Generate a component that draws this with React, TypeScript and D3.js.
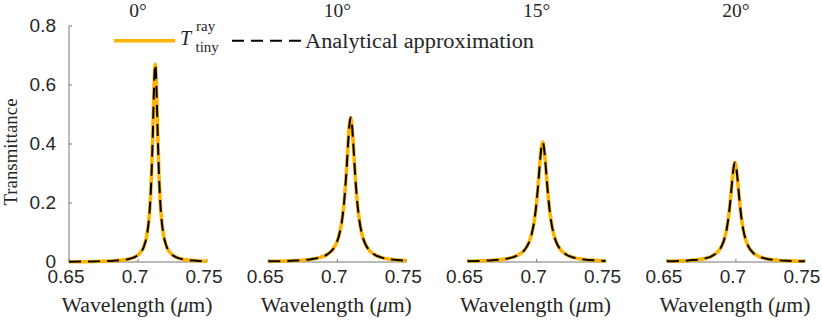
import React from 'react';
import * as d3 from 'd3';

const panelTitles = ['0°', '10°', '15°', '20°'];
const xTicks = [0.65, 0.7, 0.75];
const xTickLabels = ['0.65', '0.7', '0.75'];
const yTicks = [0, 0.2, 0.4, 0.6, 0.8];
const yTickLabels = ['0', '0.2', '0.4', '0.6', '0.8'];

// Panel 0°
const wl0 = [0.65, 0.6675, 0.6825, 0.6925, 0.6975, 0.7015, 0.7045, 0.7065, 0.7077, 0.7089, 0.7098, 0.7107, 0.7115, 0.712, 0.7125, 0.713, 0.7135, 0.7143, 0.7152, 0.7161, 0.7173, 0.7185, 0.7205, 0.7235, 0.7275, 0.7325, 0.7425, 0.75];
const ray0 = [0.001, 0.0019, 0.0043, 0.0095, 0.0167, 0.0305, 0.0553, 0.0924, 0.134, 0.2062, 0.2957, 0.4288, 0.571, 0.642, 0.67, 0.642, 0.571, 0.4288, 0.2957, 0.2062, 0.134, 0.0924, 0.0553, 0.0305, 0.0167, 0.0095, 0.0043, 0.0027];
const ana0 = [0.001, 0.0019, 0.0043, 0.0095, 0.0167, 0.0305, 0.0553, 0.0924, 0.134, 0.2062, 0.2957, 0.4288, 0.571, 0.642, 0.67, 0.642, 0.571, 0.4288, 0.2957, 0.2062, 0.134, 0.0924, 0.0553, 0.0305, 0.0167, 0.0095, 0.0043, 0.0027];

// Panel 10°
const wl1 = [0.65, 0.6697, 0.6797, 0.6877, 0.6927, 0.6967, 0.6997, 0.7017, 0.7037, 0.7052, 0.7067, 0.7079, 0.7089, 0.7097, 0.7105, 0.7115, 0.7127, 0.7142, 0.7157, 0.7177, 0.7197, 0.7227, 0.7267, 0.7317, 0.7397, 0.75];
const ray1 = [0.0022, 0.0049, 0.0086, 0.0157, 0.0257, 0.0424, 0.0676, 0.098, 0.1508, 0.2163, 0.3136, 0.4075, 0.471, 0.49, 0.471, 0.4075, 0.3136, 0.2163, 0.1508, 0.098, 0.0676, 0.0424, 0.0257, 0.0157, 0.0086, 0.0048];
const ana1 = [0.0022, 0.0049, 0.0086, 0.0157, 0.0257, 0.0424, 0.0676, 0.098, 0.1508, 0.2163, 0.3136, 0.4075, 0.471, 0.49, 0.471, 0.4075, 0.3136, 0.2163, 0.1508, 0.098, 0.0676, 0.0424, 0.0257, 0.0157, 0.0086, 0.0048];

// Panel 15°
const wl2 = [0.65, 0.6644, 0.6744, 0.6824, 0.6874, 0.6914, 0.6944, 0.6964, 0.6984, 0.6999, 0.7014, 0.7026, 0.7036, 0.7044, 0.7052, 0.7062, 0.7074, 0.7089, 0.7104, 0.7124, 0.7144, 0.7174, 0.7214, 0.7264, 0.7344, 0.7444, 0.75];
const ray2 = [0.0026, 0.0049, 0.0085, 0.0156, 0.0255, 0.0417, 0.0659, 0.0943, 0.142, 0.1984, 0.2772, 0.3478, 0.393, 0.406, 0.393, 0.3478, 0.2772, 0.1984, 0.142, 0.0943, 0.0659, 0.0417, 0.0255, 0.0156, 0.0085, 0.0049, 0.0037];
const ana2 = [0.0026, 0.0049, 0.0085, 0.0156, 0.0255, 0.0417, 0.0659, 0.0943, 0.142, 0.1984, 0.2772, 0.3478, 0.393, 0.406, 0.393, 0.3478, 0.2772, 0.1984, 0.142, 0.0943, 0.0659, 0.0417, 0.0255, 0.0156, 0.0085, 0.0049, 0.0037];

// Panel 20°
const wl3 = [0.65, 0.6593, 0.6693, 0.6773, 0.6823, 0.6863, 0.6893, 0.6913, 0.6933, 0.6948, 0.6963, 0.6975, 0.6985, 0.6993, 0.7001, 0.7011, 0.7023, 0.7038, 0.7053, 0.7073, 0.7093, 0.7123, 0.7163, 0.7213, 0.7293, 0.7393, 0.75];
const ray3 = [0.0024, 0.0037, 0.0065, 0.0118, 0.0194, 0.0319, 0.0505, 0.0728, 0.1108, 0.1569, 0.2232, 0.2847, 0.3252, 0.337, 0.3252, 0.2847, 0.2232, 0.1569, 0.1108, 0.0728, 0.0505, 0.0319, 0.0194, 0.0118, 0.0065, 0.0037, 0.0023];
const ana3 = [0.0024, 0.0037, 0.0065, 0.0118, 0.0194, 0.0319, 0.0505, 0.0728, 0.1108, 0.1569, 0.2232, 0.2847, 0.3252, 0.337, 0.3252, 0.2847, 0.2232, 0.1569, 0.1108, 0.0728, 0.0505, 0.0319, 0.0194, 0.0118, 0.0065, 0.0037, 0.0023];

const wavelengths = [wl0, wl1, wl2, wl3];
const raySeries = [ray0, ray1, ray2, ray3];
const anaSeries = [ana0, ana1, ana2, ana3];

const W = 822;
const H = 321;
const panelLefts = [69, 268.3, 467.6, 666.9];
const panelWidth = 138;
const yBottom = 262;
const yTop = 26;

const ORANGE = '#FFB300';
const AXIS = '#777777';
const TEXT = '#262626';
const SANS = '"Liberation Sans", Arial, Helvetica, sans-serif';
const SERIF = '"Liberation Serif", "Times New Roman", serif';
const DASH = '12 7';

export default function App() {
  const y = d3.scaleLinear().domain([0, 0.8]).range([yBottom, yTop]);
  return (
    <svg width={W} height={H} style={{ position: 'absolute', left: 0, top: 0, background: '#fff' }}>
      <rect x={0} y={0} width={W} height={H} fill="#fff" />
      {panelLefts.map((left, i) => {
        const x = d3.scaleLinear().domain([0.65, 0.75]).range([left, left + panelWidth]);
        const pts: [number, number][] = wavelengths[i].map((w, k) => [w, raySeries[i][k]]);
        const ptsA: [number, number][] = wavelengths[i].map((w, k) => [w, anaSeries[i][k]]);
        const line = d3
          .line<[number, number]>()
          .x((d) => x(d[0]))
          .y((d) => y(d[1]))
          .curve(d3.curveMonotoneX);
        const cx = left + panelWidth / 2;
        return (
          <g key={i}>
            <line x1={left} x2={left + panelWidth} y1={yBottom} y2={yBottom} stroke={AXIS} strokeWidth={1} />
            {xTicks.map((t, k) => (
              <g key={k}>
                <line x1={x(t)} x2={x(t)} y1={yBottom} y2={yBottom - 3} stroke={AXIS} strokeWidth={1} />
                <text
                  x={x(t) - 3}
                  y={282.5}
                  textAnchor="middle"
                  fontFamily={SANS}
                  fontSize={19}
                  fill={TEXT}
                >
                  {xTickLabels[k]}
                </text>
              </g>
            ))}
            {i === 0 && (
              <g>
                <line x1={left} x2={left} y1={yTop} y2={yBottom} stroke={AXIS} strokeWidth={1} />
                {yTicks.map((t, k) => (
                  <g key={k}>
                    <line x1={left} x2={left + 3} y1={y(t)} y2={y(t)} stroke={AXIS} strokeWidth={1} />
                    <text
                      x={left - 13}
                      y={y(t) + 5.5}
                      textAnchor="end"
                      fontFamily={SANS}
                      fontSize={19}
                      fill={TEXT}
                    >
                      {yTickLabels[k]}
                    </text>
                  </g>
                ))}
              </g>
            )}
            <path d={line(pts) || ''} fill="none" stroke={ORANGE} strokeWidth={3.6} strokeLinejoin="round" />
            <path d={line(ptsA) || ''} fill="none" stroke="#000" strokeWidth={2} strokeDasharray={DASH} />
            <text x={cx} y={17} textAnchor="middle" fontFamily={SERIF} fontSize={19.5} fill={TEXT}>
              {panelTitles[i]}
            </text>
            <text
              x={cx - 1}
              y={312}
              textAnchor="middle"
              fontFamily={SERIF}
              fontSize={20.5}
              fill={TEXT}
              textLength={151}
              lengthAdjust="spacingAndGlyphs"
            >
              Wavelength (<tspan fontStyle="italic">μ</tspan>m)
            </text>
          </g>
        );
      })}
      <text
        transform="translate(17,152) rotate(-90)"
        textAnchor="middle"
        fontFamily={SERIF}
        fontSize={19.5}
        fill={TEXT}
        textLength={107}
        lengthAdjust="spacingAndGlyphs"
      >
        Transmittance
      </text>
      <line x1={114} x2={175} y1={40.7} y2={40.7} stroke={ORANGE} strokeWidth={3.6} />
      <text x={180} y={45} fontFamily={SERIF} fontSize={20} fontStyle="italic" fill={TEXT}>T</text>
      <text x={196} y={31} fontFamily={SERIF} fontSize={15} fill={TEXT}>ray</text>
      <text x={195.5} y={51.5} fontFamily={SERIF} fontSize={15} fill={TEXT}>tiny</text>
      <line x1={232} x2={303} y1={40.7} y2={40.7} stroke="#000" strokeWidth={2} strokeDasharray={DASH} />
      <text
        x={305}
        y={47.5}
        fontFamily={SERIF}
        fontSize={20.5}
        fill={TEXT}
        textLength={229}
        lengthAdjust="spacingAndGlyphs"
      >
        Analytical approximation
      </text>
    </svg>
  );
}
